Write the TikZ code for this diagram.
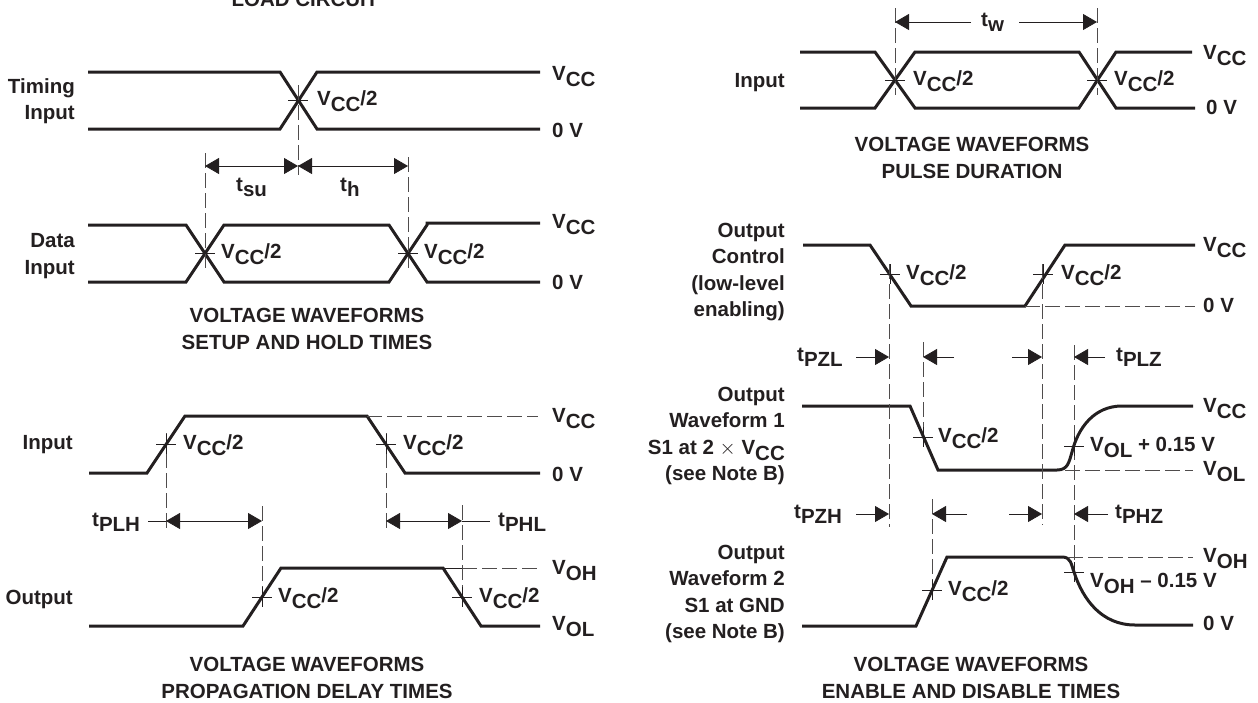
\documentclass[tikz,border=0pt]{standalone}
\usepackage{fontspec}
\setmainfont{Liberation Sans}
\usepackage{xcolor}
\usetikzlibrary{arrows.meta}
\definecolor{ink}{HTML}{231F20}
\newcommand{\lo}[1]{\raisebox{-6.5pt}{#1}}
\newcommand{\lot}[1]{\raisebox{-5pt}{#1}}
\newcommand{\vcc}{V\lo{CC}}
\newcommand{\vcch}{V\lo{CC}/2}
\tikzset{
  wave/.style={ink,line width=3pt,line join=miter},
  tickline/.style={ink,line width=0.7pt},
  dashline/.style={ink!80,line width=0.8pt,dash pattern=on 15pt off 5pt},
  dimline/.style={ink,line width=0.8pt,-{Triangle[length=14pt,width=16pt]}},
  dimboth/.style={ink,line width=0.8pt,{Triangle[length=14pt,width=16pt]}-{Triangle[length=14pt,width=16pt]}},
  txt/.style={ink,inner sep=0pt,font=\fontsize{20.5}{26.3}\selectfont\bfseries},
  lvl/.style={txt,anchor=base west},
  side/.style={txt,anchor=east,align=right},
  caption/.style={txt,anchor=center,align=center}
}
\begin{document}
\begin{tikzpicture}[x=1pt,y=-1pt]
\useasboundingbox (0,0) rectangle (1258,702);
%setup and hold
\draw[wave] (88,72) -- (280,72) -- (317,129) -- (540,129);
\draw[wave] (88,129) -- (280,129) -- (317,72) -- (540,72);
\draw[wave] (88,225) -- (186,225) -- (224,282) -- (389,282) -- (427,225) -- (427,223) -- (540,223);
\draw[wave] (88,282) -- (186,282) -- (224,225) -- (389,225) -- (427,282) -- (540,282);
\draw[dashline] (298,85) -- (298,175);
\draw[dashline] (205,153) -- (205,268);
\draw[dashline] (408,157) -- (408,268);
\draw[dimboth] (205,166) -- (298,166);
\draw[dimboth] (298,166) -- (408,166);
%pulse duration
\draw[wave] (800,52) -- (875,52) -- (915,108) -- (1079,108) -- (1116,52) -- (1192,52);
\draw[wave] (800,108) -- (875,108) -- (915,52) -- (1079,52) -- (1116,108) -- (1195,108);
\draw[dashline] (895,8) -- (895,95);
\draw[dashline] (1097,8) -- (1097,95);
\draw[dimline] (971,22) -- (895,22);
\draw[dimline] (1019,22) -- (1097,22);
%propagation delay
\draw[wave] (89,473) -- (147,473) -- (185,416) -- (367,416) -- (405,473) -- (540,473);
\draw[wave] (89,626) -- (243,626) -- (281,568) -- (443,568) -- (481,626) -- (540,626);
\draw[dashline] (367,416) -- (538,416);
\draw[dashline] (462,568) -- (538,568);
\draw[tickline] (443,568) -- (462,568);
\draw[dashline] (166,433) -- (166,530);
\draw[dashline] (386,433) -- (386,530);
\draw[dashline] (262,506) -- (262,603);
\draw[dashline] (462,505) -- (462,607);
\draw[dimboth] (166,521) -- (262,521);
\draw[dimboth] (386,521) -- (462,521);
\draw[tickline] (148,521) -- (166,521);
\draw[tickline] (462,521) -- (490,521);
%output control
\draw[wave] (803,245) -- (870,245) -- (911,306) -- (1025,306) -- (1065,245) -- (1195,245);
\draw[dashline] (1025,306) -- (1195,306);
%waveform 1
\draw[wave] (802,406) -- (910,406) -- (938,470) -- (1057,470) .. controls (1068,470) and (1069,462) .. (1072,452) .. controls (1078,428) and (1094,406) .. (1122,406) -- (1193,406);
\draw[dashline] (1065,470) -- (1193,470);
%waveform 2
\draw[wave] (802,626) -- (916,626) -- (947,557) -- (1062,557) .. controls (1071,557) and (1071,564) .. (1074,572) .. controls (1083,600) and (1102,625) .. (1135,625) -- (1193,625);
\draw[dashline] (1068,557) -- (1193,557);
%verticals of the enable and disable part
\draw[dashline] (889,264) -- (889,527);
\draw[dashline] (923,342) -- (923,447);
\draw[dashline] (1042,264) -- (1042,525);
\draw[dashline] (1074,345) -- (1074,582);
\draw[dashline] (932,499) -- (932,600);
\draw[dimline] (856,357) -- (889,357);
\draw[dimline] (954,357) -- (923,357);
\draw[dimline] (1012,357) -- (1042,357);
\draw[dimline] (1105,357) -- (1074,357);
\draw[dimline] (856,514) -- (889,514);
\draw[dimline] (967,514) -- (932,514);
\draw[dimline] (1009,514) -- (1042,514);
\draw[dimline] (1108,514) -- (1074,514);
%small crossing marks
\foreach \x/\y in {298/100,205/253,408/253,895/80,1097/80,166/444,386/444,262/597,462/597,890/274,1043/274,923/437,1074/446,932/590,1074/572}{
\draw[tickline] (\x-10,\y) -- (\x+10,\y);
}
\foreach \x/\y in {166/444,386/444,890/274,1043/274,923/437,932/590,262/597,462/597,1074/446,1074/572}{
\draw[tickline] (\x,\y-10) -- (\x,\y+10);
}
%levels on the right
\node[lvl] (ttop) at (552,80) {\vcc};
\node[lvl] (tbot) at (552,137) {0 V};
\node[lvl] (dtop) at (552,228) {\vcc};
\node[lvl] (dbot) at (552,289) {0 V};
\node[lvl] (itop) at (552,422) {\vcc};
\node[lvl] (ibot) at (552,481) {0 V};
\node[lvl] (otop) at (552,574) {V\lo{OH}};
\node[lvl] (obot) at (552,630) {V\lo{OL}};
\node[lvl] (ptop) at (1203,59) {\vcc};
\node[lvl] (pbot) at (1206,114) {0 V};
\node[lvl] (ctop) at (1203,251) {\vcc};
\node[lvl] (cbot) at (1203,312) {0 V};
\node[lvl] (wtop) at (1203,412) {\vcc};
\node[lvl] (wbot) at (1203,475) {V\lo{OL}};
\node[lvl] (xtop) at (1203,562) {V\lo{OH}};
\node[lvl] (xbot) at (1203,630) {0 V};
%half levels
\node[lvl] (mtim) at (317,105) {\vcch};
\node[lvl] (mda) at (221,258) {\vcch};
\node[lvl] (mdb) at (424,258) {\vcch};
\node[lvl] (mpa) at (913,85) {\vcch};
\node[lvl] (mpb) at (1114,85) {\vcch};
\node[lvl] (mia) at (183,449) {\vcch};
\node[lvl] (mib) at (403,449) {\vcch};
\node[lvl] (moa) at (278,602) {\vcch};
\node[lvl] (mob) at (479,602) {\vcch};
\node[lvl] (mca) at (906,279) {\vcch};
\node[lvl] (mcb) at (1061,279) {\vcch};
\node[lvl] (mwa) at (938,442) {\vcch};
\node[lvl] (mxa) at (948,595) {\vcch};
\node[lvl] (mwb) at (1090,451) {V\lo{OL} + 0.15 V};
\node[lvl] (mxb) at (1090,587) {V\lo{OH} -- 0.15 V};
%times
\node[lvl] (tsu) at (236,191) {t\lot{su}};
\node[lvl] (th) at (340,191) {t\lot{h}};
\node[lvl] (tw) at (981,26) {t\lot{w}};
\node[lvl] (tplh) at (92,526) {t\lot{PLH}};
\node[lvl] (tphl) at (498,526) {t\lot{PHL}};
\node[lvl] (tpzl) at (797,361) {t\lot{PZL}};
\node[lvl] (tplz) at (1116,361) {t\lot{PLZ}};
\node[lvl] (tpzh) at (794,518) {t\lot{PZH}};
\node[lvl] (tphz) at (1115,518) {t\lot{PHZ}};
%names on the left
\node[side] (stim) at (75,101) {Timing\\Input};
\node[side] (sdat) at (75,256) {Data\\Input};
\node[side] (sinp) at (73,445) {Input};
\node[side] (sout) at (73,599) {Output};
\node[side] (spul) at (785,83) {Input};
\node[side] (sctl) at (785,272) {Output\\Control\\(low-level\\enabling)};
\node[side] (swa) at (785,436) {Output\\Waveform 1\\S1 at 2 $\times$ \vcc\\(see Note B)};
\node[side] (swb) at (785,594) {Output\\Waveform 2\\S1 at GND\\(see Note B)};
%captions
\node[caption] (cload) at (305,-1) {LOAD CIRCUIT};
\node[caption] (csetup) at (307,329) {VOLTAGE WAVEFORMS\\SETUP AND HOLD TIMES};
\node[caption] (cprop) at (307,678) {VOLTAGE WAVEFORMS\\PROPAGATION DELAY TIMES};
\node[caption] (cpulse) at (972,158) {VOLTAGE WAVEFORMS\\PULSE DURATION};
\node[caption] (cenable) at (971,678) {VOLTAGE WAVEFORMS\\ENABLE AND DISABLE TIMES};
\end{tikzpicture}
\end{document}
